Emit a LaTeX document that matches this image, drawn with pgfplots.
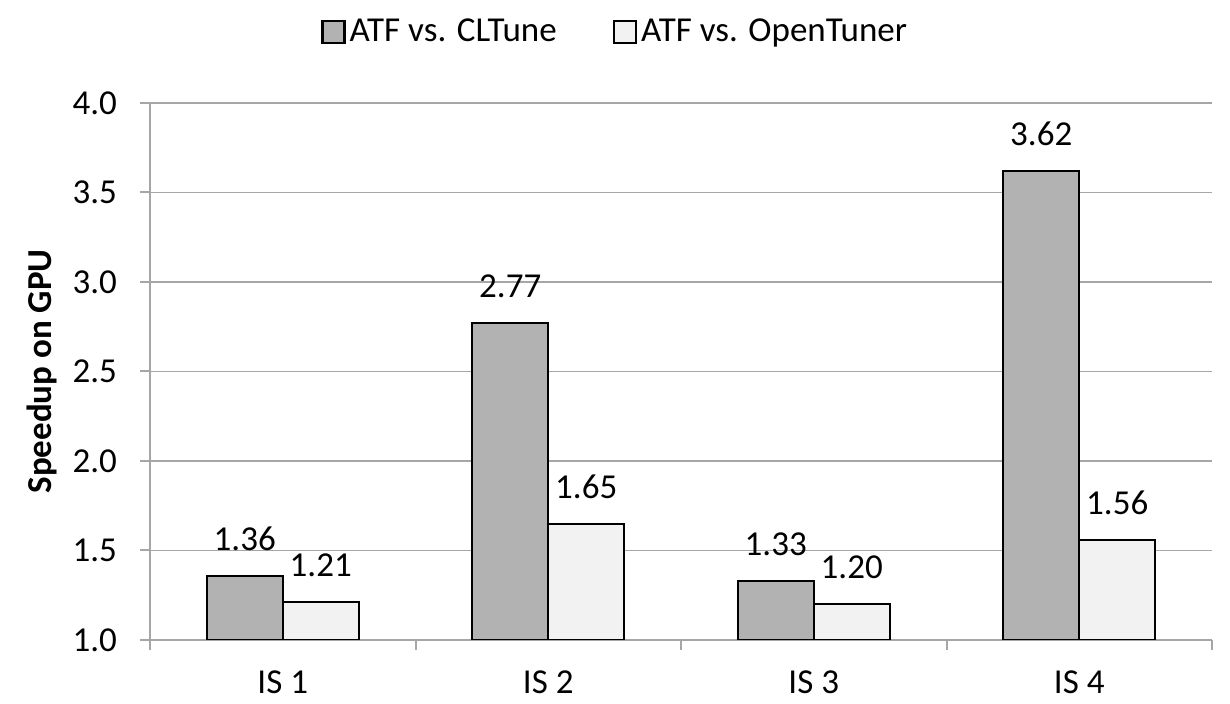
\documentclass[border=0pt]{standalone}
\usepackage{pgfplots}
\pgfplotsset{compat=1.18}
\usepackage{pgfplotstable}
\usepackage{fontspec}
\setmainfont{Carlito}
\definecolor{barA}{HTML}{B2B2B2}
\definecolor{barB}{HTML}{F2F2F2}
\definecolor{gridgray}{HTML}{A6A6A6}
\pgfplotstableread{
x y lab
0 1.36 1.36
1 2.77 2.77
2 1.33 1.33
3 3.62 3.62
}\dataA
\pgfplotstableread{
x y lab
0 1.21 1.21
1 1.65 1.65
2 1.20 1.20
3 1.56 1.56
}\dataB
\begin{document}
\begin{tikzpicture}[font=\fontsize{17.5}{21}\selectfont]
\begin{axis}[
  name=ax,
  scale only axis,
  width=531pt, height=268.5pt,
  ybar=0pt, bar width=38pt,
  xmin=-0.5, xmax=3.5,
  ymin=1, ymax=4,
  ytick={1,1.5,2,2.5,3,3.5,4},
  xtick={0,1,2,3},
  xticklabels={IS 1,IS 2,IS 3,IS 4},
  xtick style={draw=none},
  extra x ticks={-0.5,0.5,1.5,2.5,3.5},
  extra x tick labels={},
  extra x tick style={xtick style={draw=gridgray, line width=1pt}, grid=none},
  ytick style={draw=gridgray, line width=1pt},
  tick align=outside,
  major tick length=5pt,
  axis x line*=bottom,
  axis y line*=left,
  axis line style={draw=gridgray, line width=1pt, -},
  ymajorgrids,
  grid style={draw=gridgray, line width=0.9pt},
  yticklabel style={xshift=-8pt, /pgf/number format/.cd, fixed, fixed zerofill, precision=1, assume math mode=true},
  xticklabel style={yshift=-7pt},
  ylabel={\bfseries Speedup on GPU},
  ylabel style={yshift=1pt},
  legend style={draw=none, fill=none, legend columns=2,
    at={(axis description cs:0.439,1.132)}, anchor=center,
    /tikz/every even column/.append style={column sep=26pt},
    nodes={inner sep=2pt}},
  legend image code/.code={\draw[#1, line width=1.2pt] (0pt,-5.5pt) rectangle (11pt,5.5pt);},
  nodes near coords={\pgfplotspointmeta},
  point meta=explicit symbolic,
  nodes near coords style={anchor=center, yshift=18.5pt, font=\fontsize{17.5}{21}\selectfont},
]
\addplot[draw=black, line width=1pt, fill=barA] table[x=x, y=y, meta=lab] {\dataA};
\addplot[draw=black, line width=1pt, fill=barB] table[x=x, y=y, meta=lab] {\dataB};
\legend{ATF vs. CLTune, ATF vs. OpenTuner}
\end{axis}
\path[use as bounding box] ([xshift=-75pt, yshift=-32pt]ax.south west) rectangle ([xshift=9pt, yshift=51.5pt]ax.north east);
\end{tikzpicture}
\end{document}
